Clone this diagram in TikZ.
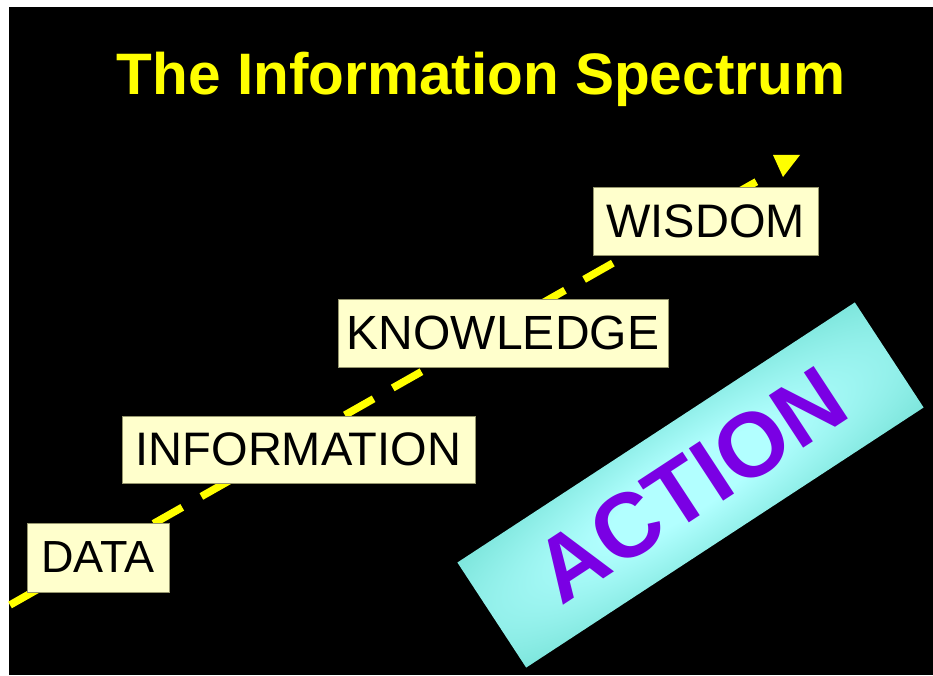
\documentclass[tikz,border=0pt]{standalone}
\usepackage{fontspec}
\setmainfont{Liberation Sans}
\definecolor{signyellow}{RGB}{255,255,0}
\definecolor{cream}{RGB}{255,255,204}
\definecolor{boxedge}{RGB}{150,150,110}
\definecolor{actlight}{RGB}{178,255,255}
\definecolor{actmid}{RGB}{95,215,200}
\definecolor{actdark}{RGB}{42,170,155}
\definecolor{actpurple}{RGB}{122,0,228}
% glow from the middle of the ACTION banner out to its corners
\pgfdeclareradialshading{actionglow}{\pgfpoint{0bp}{0bp}}{%
  color(0bp)=(actlight); color(10bp)=(actlight); color(50bp)=(actmid);
  color(71bp)=(actdark); color(100bp)=(actdark)}
\begin{document}
\begin{tikzpicture}[x=1pt,y=1pt,
  stage/.style={draw=boxedge, line width=0.8pt, fill=cream, text=black,
    inner sep=0pt, font=\fontsize{47}{56}\selectfont},
  spectrumline/.style={signyellow, line width=7.5pt, dash pattern=on 33pt off 22pt}]
\useasboundingbox (0,0) rectangle (933,675);
\fill[white] (0,0) rectangle (933,675);
\fill[black] (9,0) rectangle (933,668);

% heading
\node[text=signyellow, font=\bfseries\fontsize{58.5}{70}\selectfont, anchor=base]
  (title) at (481,580) {The Information Spectrum};

% rising dashed arrow
\coordinate (start) at (10,70);
\coordinate (end) at (770,501);
\draw[spectrumline] (start) -- (end);
\fill[signyellow] (end) ++(3,19) -- ++(27,0) -- ++(-17,-22) -- cycle;

% the four stages
\node[stage, font=\fontsize{45}{54}\selectfont, minimum width=142, minimum height=69] (data) at (98,117.5) {DATA};
\node[stage, minimum width=353, minimum height=67] (info) at (298.5,225.5) {INFORMATION};
\node[stage, font=\fontsize{48}{56}\selectfont, minimum width=330, minimum height=68] (know) at (503,342) {KNOWLEDGE};
\node[stage, minimum width=225, minimum height=68] (wisdom) at (705.5,454) {WISDOM};

% tilted ACTION banner
\begin{scope}[transform canvas={shift={(690.5,190)}, rotate=33.2}]
  \shade[shading=actionglow] (-237.5,-62.8) rectangle (237.5,62.8);
  \node[text=actpurple, font=\bfseries\fontsize{91}{106}\selectfont] (action) at (0,0) {ACTION};
\end{scope}
\end{tikzpicture}
\end{document}
